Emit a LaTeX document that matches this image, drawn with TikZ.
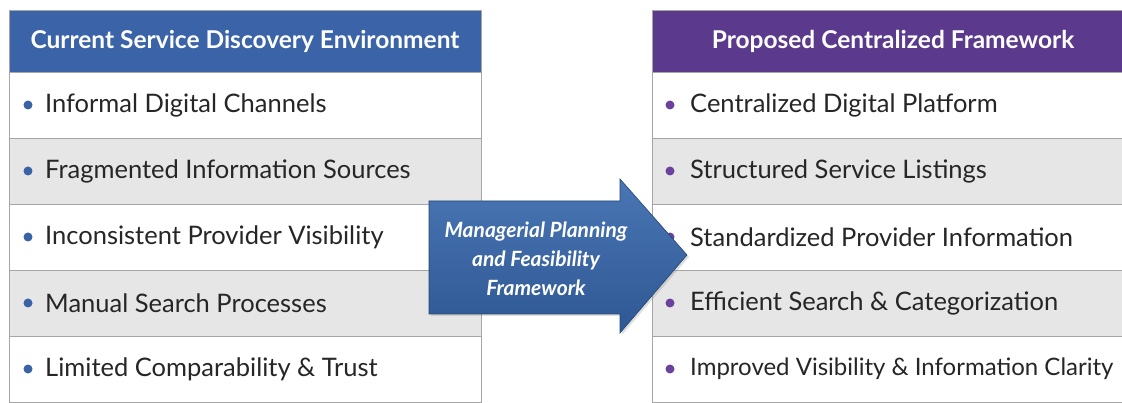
\documentclass[tikz,border=0pt]{standalone}
\usepackage{fontspec}
\setmainfont{Lato}
\usetikzlibrary{positioning,shadows}
\definecolor{hdblue}{HTML}{3B64A8}
\definecolor{hdpurple}{HTML}{5B3A8E}
\definecolor{rowgray}{HTML}{E6E6E6}
\definecolor{rowline}{HTML}{A5A5A5}
\definecolor{arrowtop}{HTML}{4A76B5}
\definecolor{arrowbot}{HTML}{2E5893}
\definecolor{dotblue}{HTML}{3A63A6}
\definecolor{dotpurple}{HTML}{6A429E}

\begin{document}
\begin{tikzpicture}[x=1pt, y=-1pt, node distance=0pt,
    header/.style={rectangle, draw=rowline, outer sep=0pt, minimum height=62pt, text=white, font=\fontsize{24.5}{28}\selectfont\bfseries},
    row/.style={rectangle, draw=rowline, outer sep=0pt, minimum height=66pt},
    item/.style={anchor=west, inner sep=0pt, text=black!85, font=\fontsize{25.5}{30}\selectfont},
    plan/.style={align=center, text=white, font=\fontsize{21}{29}\selectfont\bfseries\itshape}]
  \clip (0,0) rectangle (1122,403);
  \fill[white] (0,0) rectangle (1122,403);

  % left column: current situation
  \node[header, fill=hdblue, minimum width=472pt, anchor=north west] (l0) at (9,10) {Current Service Discovery Environment};
  \foreach \txt [count=\i] in {Informal Digital Channels, Fragmented Information Sources, Inconsistent Provider Visibility, Manual Search Processes, Limited Comparability \& Trust} {
    \pgfmathtruncatemacro{\prev}{\i-1}
    \ifodd\i \def\rowcol{white}\else \def\rowcol{rowgray}\fi
    \node[row, fill=\rowcol, minimum width=472pt, below=of l\prev] (l\i) {};
    \fill[dotblue] ([xshift=19pt]l\i.west) circle (4.5pt);
    \node[item] at ([xshift=36pt]l\i.west) {\txt};
  }

  % right column: proposed framework
  \node[header, fill=hdpurple, minimum width=482pt, anchor=north west] (r0) at (652,10) {Proposed Centralized Framework};
  \foreach \txt [count=\i] in {Centralized Digital Platform, Structured Service Listings, Standardized Provider Information, Efficient Search \& Categorization, {\fontsize{24}{30}\selectfont Improved Visibility \& Information Clarity}} {
    \pgfmathtruncatemacro{\prev}{\i-1}
    \ifodd\i \def\rowcol{white}\else \def\rowcol{rowgray}\fi
    \node[row, fill=\rowcol, minimum width=482pt, below=of r\prev] (r\i) {};
    \fill[dotpurple] ([xshift=18pt]r\i.west) circle (4.5pt);
    \node[item] at ([xshift=38pt]r\i.west) {\txt};
  }

  % transition arrow
  \path[top color=arrowtop, bottom color=arrowbot, draw=arrowbot!80!black, line width=0.6pt,
        drop shadow={opacity=0.25, shadow xshift=2pt, shadow yshift=-2pt}]
    (429,201) -- (620,201) -- (620,179) -- (687,255) -- (620,333) -- (620,314) -- (429,314) -- cycle;
  \node[plan] (mpf) at (536,259) {Managerial Planning\\and Feasibility\\Framework};
\end{tikzpicture}
\end{document}
